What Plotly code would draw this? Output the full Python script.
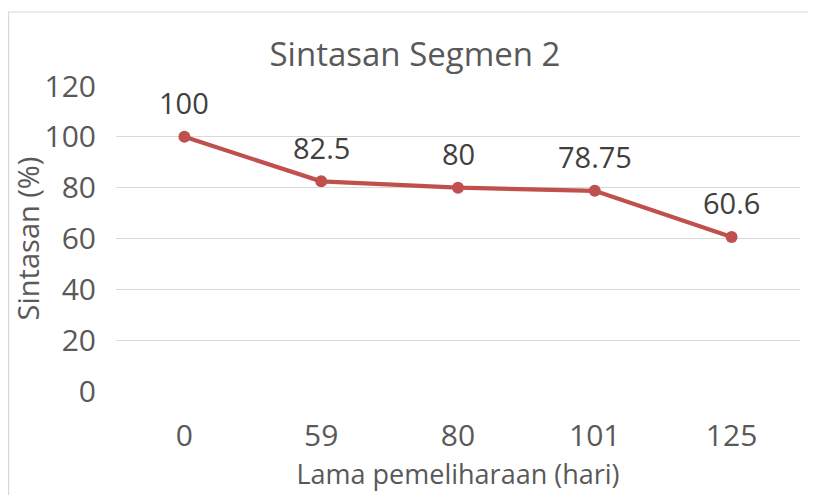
import plotly.graph_objects as go

categories = ["0", "59", "80", "101", "125"]
values = [100, 82.5, 80, 78.75, 60.6]
labels = ["100", "82.5", "80", "78.75", "60.6"]
y_ticks = [0, 20, 40, 60, 80, 100, 120]

FONT = "Open Sans"
TXT = "#595959"
LBL = "#404040"
RED = "#C0504D"

# the page body adds an 8px offset; margins below compensate for it
L, T, W_PLOT, H_PLOT = 108, 78, 684, 305

fig = go.Figure()
fig.add_trace(go.Scatter(
    x=categories, y=values, mode="lines+markers",
    line=dict(color=RED, width=4.2),
    marker=dict(color=RED, size=12),
    cliponaxis=False, hoverinfo="skip",
))

annotations = [
    dict(x=i, y=v, xref="x", yref="y", text=t, showarrow=False, yshift=34,
         xanchor="center", yanchor="middle",
         font=dict(family=FONT, size=29, color=LBL))
    for i, (v, t) in enumerate(zip(values, labels))
]

fig.update_layout(
    width=816, height=495,
    margin=dict(l=L, r=816 - L - W_PLOT, t=T, b=495 - T - H_PLOT),
    paper_bgcolor="white", plot_bgcolor="white",
    showlegend=False,
    annotations=annotations,
    title=dict(text="Sintasan Segmen 2", x=407 / 816, xanchor="center",
               y=1 - 46 / 495, yanchor="middle", automargin=False,
               font=dict(family=FONT, size=33, color=TXT)),
    xaxis=dict(type="category", range=[-0.5, 4.5], showgrid=False, showline=False,
               zeroline=False, ticks="", automargin=False, ticklabelstandoff=24,
               tickfont=dict(family=FONT, size=30, color=TXT),
               title=dict(text="Lama pemeliharaan (hari)", standoff=0,
                          font=dict(family=FONT, size=27, color=TXT))),
    yaxis=dict(range=[0, 120], tickvals=y_ticks, showgrid=True, automargin=False,
               gridcolor="#D9D9D9", gridwidth=1.3, zeroline=False, showline=False,
               ticks="", ticklabelstandoff=19,
               tickfont=dict(family=FONT, size=30, color=TXT),
               title=dict(text="Sintasan (%)", standoff=17,
                          font=dict(family=FONT, size=29, color=TXT))),
    shapes=[dict(type="rect", xref="paper", yref="paper",
                 x0=(0.6 - L) / W_PLOT, x1=(840 - L) / W_PLOT, y0=-1,
                 y1=1 + (T - 4) / H_PLOT,
                 line=dict(color="#D9D9D9", width=1.2), fillcolor="rgba(0,0,0,0)",
                 layer="below")],
)

fig.write_html("out.html")
